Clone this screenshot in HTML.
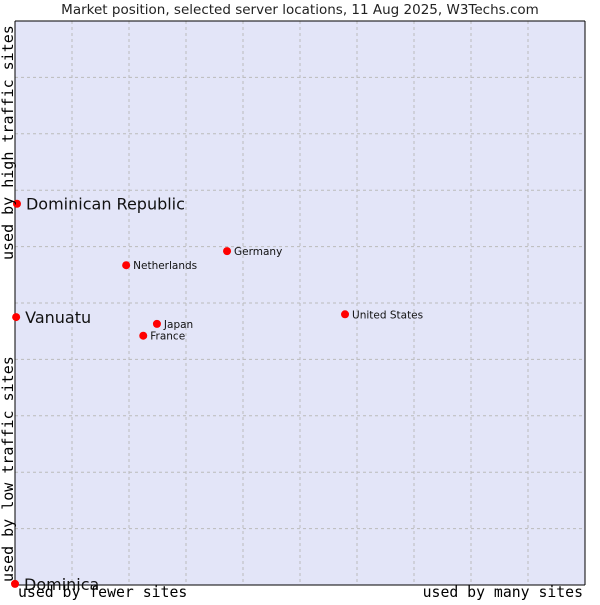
<!DOCTYPE html>
<html><head><meta charset="utf-8"><style>
body{margin:0;background:#fff;}
svg text{font-family:"DejaVu Sans","Liberation Sans",sans-serif;}
.mono{font-family:"DejaVu Sans Mono","Liberation Mono",monospace;}
</style></head><body>
<svg id="chart" width="600" height="600" xmlns="http://www.w3.org/2000/svg">
<text x="300" y="14" text-anchor="middle" font-size="13.5" fill="#222">Market position, selected server locations, 11 Aug 2025, W3Techs.com</text>
<rect x="15" y="21" width="570" height="564" fill="#e3e5f8" stroke="none"/>
<g id="grid"></g>
<line x1="15" y1="21" x2="15" y2="585" stroke="#000"/>
<line x1="15" y1="585" x2="585" y2="585" stroke="#000"/>
<line x1="15" y1="21" x2="585" y2="21" stroke="#000"/>
<line x1="585" y1="21" x2="585" y2="585" stroke="#000"/>
<g id="points"></g>
<text class="mono" x="18" y="597" font-size="14.8" fill="#000">used by fewer sites</text>
<text class="mono" x="583" y="597" text-anchor="end" font-size="14.8" fill="#000">used by many sites</text>
<text class="mono" transform="translate(13,582) rotate(-90)" font-size="15" fill="#000">used by low traffic sites</text>
<text class="mono" transform="translate(13,260) rotate(-90)" font-size="15" fill="#000">used by high traffic sites</text>
</svg>
<script>
const names=["Dominican Republic","Vanuatu","Dominica","Germany","Netherlands","United States","Japan","France"];
const xVals=[0.35,0.2,0,37.2,19.5,57.9,24.9,22.5];
const yVals=[67.6,47.5,0.2,59.2,56.7,48.0,46.3,44.2];
const big=[true,true,true,false,false,false,false,false];
const NS="http://www.w3.org/2000/svg";
const X0=15,X1=585,Y0=585,Y1=21;
function sx(v){return X0+v/100*(X1-X0);}
function sy(v){return Y0-v/100*(Y0-Y1);}
const grid=document.getElementById('grid');
for(let i=1;i<10;i++){
  const gx=document.createElementNS(NS,'line');
  
  
  gx.setAttribute('x1',sx(i*10));gx.setAttribute('x2',sx(i*10));gx.setAttribute('y1',Y1);gx.setAttribute('y2',Y0);
  gx.setAttribute('stroke','#bbb');gx.setAttribute('stroke-dasharray','3,3');grid.appendChild(gx);
  const gy=document.createElementNS(NS,'line');
  
  
  gy.setAttribute('y1',sy(i*10));gy.setAttribute('y2',sy(i*10));gy.setAttribute('x1',X0);gy.setAttribute('x2',X1);
  gy.setAttribute('stroke','#bbb');gy.setAttribute('stroke-dasharray','3,3');grid.appendChild(gy);
}
const pts=document.getElementById('points');
names.forEach((n,i)=>{
  const x=sx(xVals[i]),y=sy(yVals[i]);
  const c=document.createElementNS(NS,'circle');
  
  
  c.setAttribute('cx',x);c.setAttribute('cy',y);c.setAttribute('r',4);c.setAttribute('fill','#f00');
  pts.appendChild(c);
  const t=document.createElementNS(NS,'text');
  
  
  t.setAttribute('x',x+(big[i]?9:7));
  t.setAttribute('y',y+(big[i]?6:4));
  t.setAttribute('font-size',big[i]?16:10.5);
  t.setAttribute('fill','#111');
  t.textContent=n;pts.appendChild(t);
});
</script>
</body></html>
